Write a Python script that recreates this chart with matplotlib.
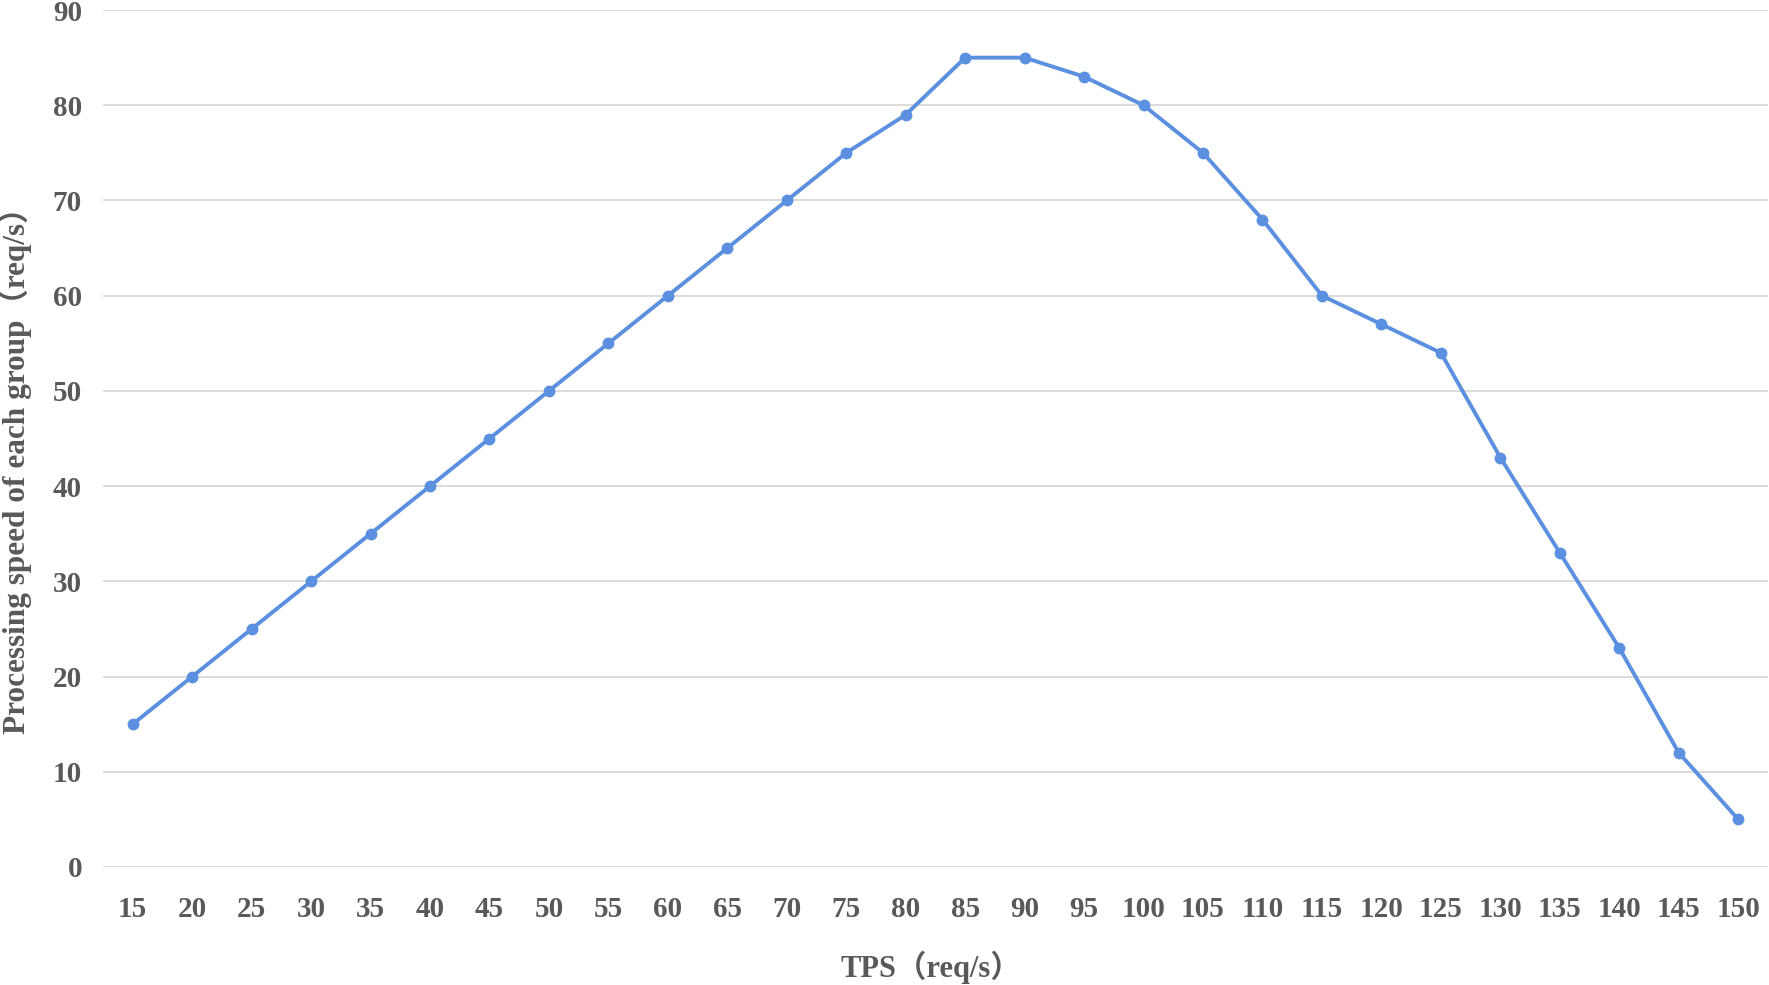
import numpy as np
import matplotlib
matplotlib.use("Agg")
from matplotlib import pyplot as plt

tps = [15, 20, 25, 30, 35, 40, 45, 50, 55, 60, 65, 70, 75, 80,
       85, 90, 95, 100, 105, 110, 115, 120, 125, 130, 135, 140, 145, 150]
speed = [15, 20, 25, 30, 35, 40, 45, 50, 55, 60, 65, 70, 75, 79,
         85, 85, 83, 80, 75, 68, 60, 57, 54, 43, 33, 23, 12, 5]
yticks = [0, 10, 20, 30, 40, 50, 60, 70, 80, 90]

fonts = ['Liberation Serif', 'Noto Sans CJK SC']
grey = '#595959'

fig = plt.figure(figsize=(17.69, 9.85), dpi=100)
ax = fig.add_axes([0.0582, 0.1198, 0.9412, 0.87])

x = np.arange(len(tps))
ax.plot(x, speed, color='#5B8FE0', lw=2.8, marker='o', ms=7.5, zorder=3)

ax.set_xlim(-0.5, len(tps) - 0.5)
ax.set_ylim(0, 90)
ax.set_yticks(yticks)
ax.set_xticks(x)
ax.set_xticklabels([str(t) for t in tps])
ax.grid(axis='y', color='#D9D9D9', lw=1.3)
ax.set_axisbelow(True)
for s in ax.spines.values():
    s.set_visible(False)
ax.tick_params(length=0, colors=grey, labelsize=21)
ax.tick_params(axis='x', pad=21)
ax.tick_params(axis='y', pad=15)
for lab in ax.get_xticklabels() + ax.get_yticklabels():
    lab.set_family(fonts)
    lab.set_fontweight('bold')

fig.text(0.526, 0.018, 'TPS（req/s）', ha='center', va='center', fontsize=22,
         fontweight='bold', color=grey, family=fonts)
fig.text(0.0085, 0.53, 'Processing speed of each group（req/s）', ha='center', va='center',
         rotation=90, fontsize=22.5, fontweight='bold', color=grey, family=fonts)

fig.savefig('out.png', dpi=100)
